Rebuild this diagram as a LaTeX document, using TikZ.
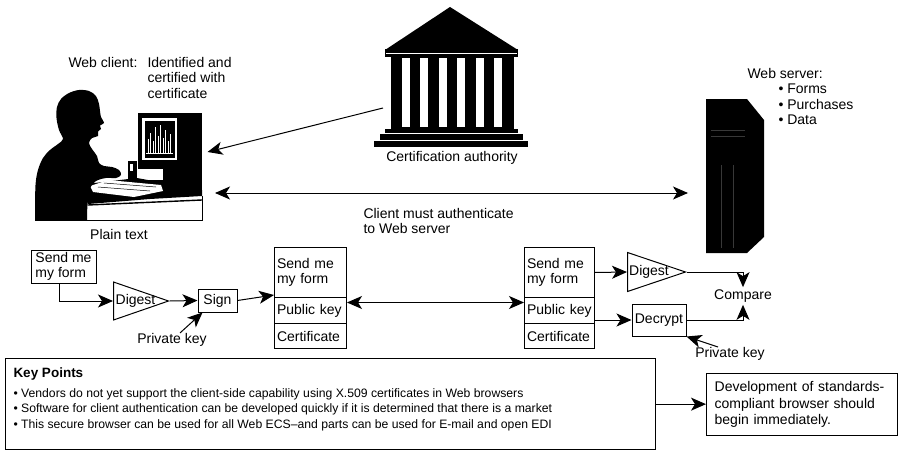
\documentclass[tikz,border=0pt]{standalone}
\usepackage{fontspec}
\setmainfont{Liberation Sans}
\usetikzlibrary{arrows.meta,shapes.geometric}
\begin{document}
\begin{tikzpicture}[x=1pt,y=-1pt,
  font=\fontsize{14}{15.5}\selectfont,
  line width=1pt,
  arr/.style={-{Stealth[length=15pt,width=13pt,inset=4pt]}},
  dblarr/.style={{Stealth[length=15pt,width=13pt,inset=4pt]}-{Stealth[length=15pt,width=13pt,inset=4pt]}},
  txt/.style={inner sep=0pt, align=left},
  box/.style={draw, inner sep=0pt, align=left},
  panel/.style={draw, line width=1.3pt, anchor=north west},
  part/.style={draw, anchor=north west, inner ysep=0pt, inner xsep=2.5pt, align=left},
  digest/.style={draw, isosceles triangle, isosceles triangle stretches, inner sep=0pt, anchor=lower side},
  area/.style={inner sep=0pt}
]
\useasboundingbox (0,0) rectangle (899,452);

% ---------- client workstation ----------
\node[area, minimum width=167pt, minimum height=130pt] (client) at (118.5,155) {};
% monitor with screen and chart
\fill (138,113) rectangle (202,196);
\fill[white] (142,118) rectangle (177,160);
\fill (144.5,120.5) rectangle (174.5,157.5);
\foreach \x/\h in {148/139,150.5/133,153/141,155.5/127,158/136,160.5/125,163/138,165.5/130,168/141,170.5/134}
  \draw[white, line width=0.7pt] (\x,153) -- (\x,\h);
\draw[white, line width=0.7pt] (146,153.5) -- (173,153.5);
% drive unit under the screen
\fill[white] (137,169) rectangle (163,180);
\fill (128,161) rectangle (137,182);
\fill[white] (130,164) rectangle (132.5,171);
% desk and keyboard
\fill (86,184) -- (137,178) -- (202,190) -- (202,196) -- (150,199) -- (88,204) -- cycle;
\fill[white] (90,186) -- (108,180) -- (161,185) -- (163,191) -- (134,197) -- (93,192) -- cycle;
\draw[line width=0.5pt] (98,187) -- (150,191);
\draw[line width=0.5pt] (104,183) -- (156,187);
\draw[line width=1.4pt] (88,205) -- (202,200);
\draw (35,220) -- (202,220) -- (202,196);
% seated user
\fill (35,220) -- plot[smooth, tension=0.55] coordinates {
  (35,213) (35.5,185) (38,170) (43,158) (50,150) (58,144) (63,139)
  (59,130) (56.5,118) (57,107) (61,99) (69,93) (79,90) (89,91) (96,96)
  (99,104) (100,111) (101,117) (104,123) (100,125.5) (101,129) (98,131.5)
  (98,136) (92,138) (89,143) (92,149) (97,156) (99,163) (104,166) (112,167)
  (119,170) (121,175) (116,178) (106,178) (96,181) (90,188) (88,200) (87,213)}
  -- (87,220) -- cycle;

% ---------- certification authority building ----------
\node[area, minimum width=155pt, minimum height=140pt] (ca) at (450.5,77) {};
\fill (385,50) -- (450,7) -- (518,50) -- cycle;
\fill (385,49.5) rectangle (518,57);
\draw[white, line width=0.7pt] (386,53) -- (517,53);
\fill (391,57) rectangle (514,128.5);
\foreach \i in {0,...,5}
  \fill[white] ({401.7+18.5*\i},58.5) rectangle ({409.7+18.5*\i},127);
\fill (385,128.5) rectangle (518,133);
\fill (380,134) rectangle (523,140);
\fill (374,141) rectangle (528,147);

% ---------- web server tower ----------
\node[area, minimum width=58pt, minimum height=154pt] (server) at (735,176) {};
\fill (706,99) -- (747,99) -- (764,120) -- (764,237) -- (747,253) -- (706,253) -- cycle;
\draw[black!78, line width=0.6pt] (711,130) -- (745,130) (711,136) -- (745,136)
  (721,165) -- (721,248) (733,165) -- (733,248);

% ---------- labels of the upper part ----------
\node[txt, anchor=north west] (wc) at (68,56.4) {Web client:};
\node[txt, anchor=north west] (wcd) at (147,56.4) {Identified and\\certified with\\certificate};
\node[txt] (pt) at (119,234) {Plain text};
\node[txt] (cal) at (452,158) {Certification authority};
\node[txt, anchor=north west] (auth) at (363,207.4) {Client must authenticate\\to Web server};
\node[txt, anchor=north west] (ws) at (747,67.4) {Web server:};
\node[txt, anchor=north west] (wsl) at (778,83.4) {• Forms\\• Purchases\\• Data};

\coordinate (caL) at (383,108);
\draw[arr] (caL) -- ([xshift=5pt,yshift=3pt]client.east);
\coordinate (cliR) at (215,193);
\coordinate (srvL) at (688,193);
\draw[dblarr] (cliR) -- (srvL);

% ---------- signing on the client side ----------
\node[box, minimum width=65pt, minimum height=33pt] (m1) at (63.5,266.5) {Send me\\my form};
\node[digest, minimum height=55pt, minimum width=38pt] (dg1) at (113,301) {};
\node[txt] (dg1t) at (135.5,301) {Digest};
\node[box, minimum width=39pt, minimum height=23pt] (sign) at (217.5,300.5) {Sign};
\node[txt] (pk1) at (172,340) {Private key};

\node[part, text width=67pt, minimum height=50pt] (c1) at (274,247) {Send me\\my form};
\node[part, text width=67pt, minimum height=26pt] (c2) at (274,297) {Public key};
\node[part, text width=67pt, minimum height=25pt] (c3) at (274,323) {Certificate};

\draw[arr] ([xshift=-4pt]m1.south) |- (dg1.lower side);
\draw[arr] (dg1.apex) -- (sign.west);
\draw[arr] ([xshift=8pt]pk1.north) -- ([xshift=5pt]sign.south west);
\draw[arr] (sign.east) -- ([yshift=3pt]c1.south west);

% ---------- verification on the server side ----------
\node[part, text width=65pt, minimum height=50pt] (s1) at (524,247) {Send me\\my form};
\node[part, text width=65pt, minimum height=26pt] (s2) at (524,297) {Public key};
\node[part, text width=65pt, minimum height=25pt] (s3) at (524,323) {Certificate};

\draw[dblarr] ([yshift=8pt]c2.east) -- ([yshift=8pt]s2.west);

\node[digest, minimum height=58pt, minimum width=39pt] (dg2) at (627,272) {};
\node[txt] (dg2t) at (649,272) {Digest};
\node[box, minimum width=54pt, minimum height=32pt] (dec) at (659,320) {Decrypt};
\node[txt, inner sep=2pt] (cmp) at (743,296) {Compare};
\node[txt] (pk2) at (730,354) {Private key};

\draw[arr] (s1.east) -- (dg2.lower side);
\draw[arr] (s2.east |- dec.west) -- (dec.west);
\draw[arr] (dg2.apex) -| (cmp.north);
\draw[arr] (dec.east) -| (cmp.south);
\draw[arr] ([xshift=-12pt]pk2.north) -- (dec.south east);

% ---------- key points and conclusion ----------
\node[panel, inner sep=0pt, minimum width=650pt, minimum height=91pt] (kp) at (5,358) {};
\node[txt, anchor=north west, font=\fontsize{12.2}{15.6}\selectfont] (kpt) at (13,367.5)
  {{\bfseries\fontsize{13.5}{15}\selectfont Key Points}\\[4pt]
   • Vendors do not yet support the client-side capability using X.509 certificates in Web browsers\\
   • Software for client authentication can be developed quickly if it is determined that there is a market\\
   • This secure browser can be used for all Web ECS–and parts can be used for E-mail and open EDI};
\node[panel, inner xsep=8pt, inner ysep=0pt, text width=175pt, minimum height=62pt,
  align=left, font=\fontsize{14}{16.5}\selectfont] (res) at (706,373)
  {Development of standards-\\compliant browser should\\begin immediately.};
\draw[arr] (kp.east) -- (kp.east -| res.west);
\end{tikzpicture}
\end{document}
